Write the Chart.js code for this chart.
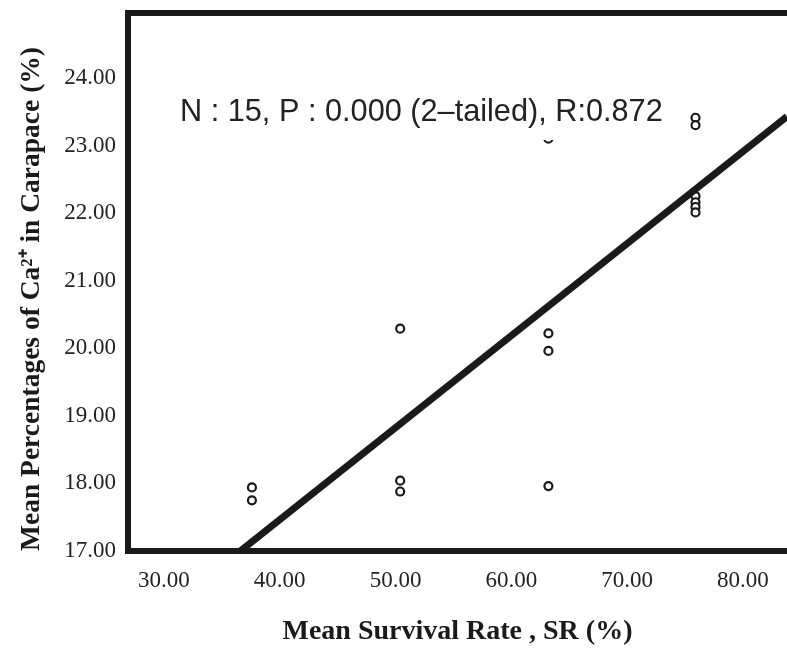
<!DOCTYPE html>
<html>
<head>
<meta charset="utf-8">
<script src="https://cdn.jsdelivr.net/npm/chart.js@4.4.0/dist/chart.umd.min.js"></script>
<style>
  body { margin: 0; background: #fff; overflow: hidden; }
  #wrap { width: 787px; height: 649px; }
</style>
</head>
<body>
<div id="wrap"><canvas id="scatterChart" width="787" height="649"></canvas></div>
<script>
// survival rate (x) and Ca2+ percentage (y) for the 15 samples
const survival = [37.6, 37.6, 50.4, 50.4, 50.4, 63.2, 63.2, 63.2, 63.2, 75.9, 75.9, 75.9, 75.9, 75.9, 75.9];
const calcium  = [17.94, 17.75, 20.29, 18.04, 17.88, 20.22, 19.96, 17.96, 23.10, 23.41, 23.30, 22.25, 22.16, 22.09, 22.01];

// fitted line end points
const fitX = [36.6, 83.8];
const fitY = [17.0, 23.43];

const xTicks = [30, 40, 50, 60, 70, 80];
const yTicks = [17, 18, 19, 20, 21, 22, 23, 24];

const noteText = "N : 15, P : 0.000 (2\u2013tailed), R:0.872";

const ink = '#1a1a1a';

// thick frame on left, top and bottom (right side is cut off in the figure)
const framePlugin = {
  id: 'frame',
  afterDatasetsDraw(chart) {
    const { ctx, chartArea } = chart;
    ctx.save();
    // annotation with white box, as in the original output
    ctx.font = '30.7px "Liberation Sans", Arial, sans-serif';
    ctx.fillStyle = '#fff';
    ctx.fillRect(175, 90, 496, 50);
    ctx.fillStyle = '#222';
    ctx.textBaseline = 'middle';
    ctx.fillText(noteText, 180, 113);

    ctx.strokeStyle = ink;
    ctx.lineWidth = 6;
    ctx.beginPath();
    ctx.moveTo(chartArea.right + 10, chartArea.top);
    ctx.lineTo(chartArea.left, chartArea.top);
    ctx.lineTo(chartArea.left, chartArea.bottom);
    ctx.lineTo(chartArea.right + 10, chartArea.bottom);
    ctx.stroke();
    ctx.restore();
  }
};

const ctx = document.getElementById('scatterChart').getContext('2d');

new Chart(ctx, {
  type: 'scatter',
  data: {
    datasets: [
      {
        label: 'Fit line',
        data: fitX.map((x, i) => ({ x: x, y: fitY[i] })),
        showLine: true,
        borderColor: ink,
        borderWidth: 7,
        pointRadius: 0,
        borderCapStyle: 'butt'
      },
      {
        label: 'Samples',
        data: survival.map((x, i) => ({ x: x, y: calcium[i] })),
        pointRadius: 4,
        pointBorderWidth: 2.2,
        pointBorderColor: ink,
        pointBackgroundColor: '#fff'
      }
    ]
  },
  options: {
    responsive: false,
    animation: false,
    layout: { autoPadding: false, padding: { top: 13, left: 0, right: 0, bottom: 0 } },
    plugins: {
      legend: { display: false },
      tooltip: { enabled: false }
    },
    scales: {
      x: {
        type: 'linear',
        min: 26.9,
        max: 83.8,
        afterBuildTicks: (scale) => { scale.ticks = xTicks.map(v => ({ value: v })); },
        afterFit: (scale) => {
          scale.height = 98;
          scale.paddingLeft = 0;
          scale.paddingRight = 0;
        },
        grid: { display: false, drawTicks: false },
        border: { display: false },
        ticks: {
          padding: 16,
          color: '#222',
          font: { family: '"Liberation Serif", "Times New Roman", serif', size: 23 },
          callback: (v) => Number(v).toFixed(2)
        },
        title: {
          display: true,
          text: 'Mean Survival Rate , SR (%)',
          color: '#1a1a1a',
          padding: { top: 0, bottom: 0 },
          font: { family: '"Liberation Serif", "Times New Roman", serif', size: 28, weight: 'bold' }
        }
      },
      y: {
        type: 'linear',
        min: 17,
        max: 24.96,
        afterBuildTicks: (scale) => { scale.ticks = yTicks.map(v => ({ value: v })); },
        afterFit: (scale) => {
          scale.width = 128;
          scale.paddingTop = 0;
          scale.paddingBottom = 0;
        },
        grid: { display: false, drawTicks: false },
        border: { display: false },
        ticks: {
          padding: 12,
          color: '#222',
          font: { family: '"Liberation Serif", "Times New Roman", serif', size: 23 },
          callback: (v) => Number(v).toFixed(2)
        },
        title: {
          display: true,
          text: 'Mean Percentages of Ca\u00b2\u207a in Carapace (%)',
          color: '#1a1a1a',
          align: 'start',
          padding: { top: 15, bottom: 0 },
          font: { family: '"Liberation Serif", "Times New Roman", serif', size: 27.5, weight: 'bold' }
        }
      }
    }
  },
  plugins: [framePlugin]
});
</script>
</body>
</html>
